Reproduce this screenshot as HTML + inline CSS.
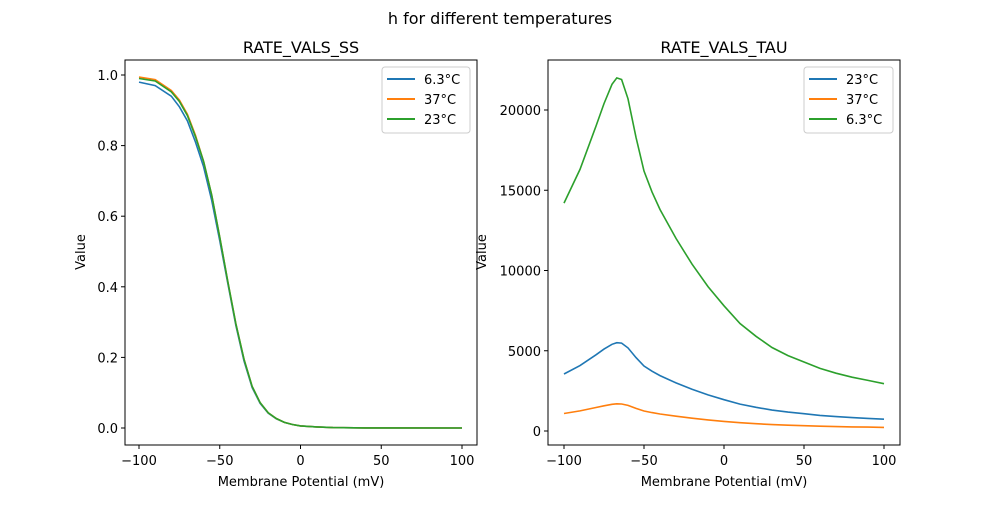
<!DOCTYPE html>
<html><head><meta charset="utf-8"><style>
body{margin:0;background:#fff}
svg{font-family:"DejaVu Sans","Liberation Sans",sans-serif}
</style></head><body>
<svg id="s" width="1000" height="500" xmlns="http://www.w3.org/2000/svg">
<rect width="1000" height="500" fill="#fff"/>
<text x="500" y="24" font-size="16" text-anchor="middle">h for different temperatures</text>
<text x="301" y="53" font-size="16" text-anchor="middle">RATE_VALS_SS</text>
<text x="724" y="53" font-size="16" text-anchor="middle">RATE_VALS_TAU</text>
<g id="g"></g>
<rect x="125" y="60" width="352" height="385" fill="none" stroke="#000" stroke-width="1"/>
<rect x="548" y="60" width="352" height="385" fill="none" stroke="#000" stroke-width="1"/>
<text x="301" y="486" font-size="13" text-anchor="middle">Membrane Potential (mV)</text>
<text x="724" y="486" font-size="13" text-anchor="middle">Membrane Potential (mV)</text>
<text transform="translate(85,252) rotate(-90)" font-size="13" text-anchor="middle">Value</text>
<text transform="translate(486,252) rotate(-90)" font-size="13" text-anchor="middle">Value</text>
<g font-size="13">
<rect x="382" y="67" width="88" height="66" rx="3" fill="#fff" stroke="#ccc"/>
<line x1="387" y1="79" x2="415" y2="79" stroke="#1f77b4" stroke-width="2"/><text x="424" y="84">6.3°C</text>
<line x1="387" y1="99" x2="415" y2="99" stroke="#ff7f0e" stroke-width="2"/><text x="424" y="104">37°C</text>
<line x1="387" y1="119" x2="415" y2="119" stroke="#2ca02c" stroke-width="2"/><text x="424" y="124">23°C</text>
<rect x="804" y="67" width="89" height="66" rx="3" fill="#fff" stroke="#ccc"/>
<line x1="809" y1="79" x2="837" y2="79" stroke="#1f77b4" stroke-width="2"/><text x="846" y="84">23°C</text>
<line x1="809" y1="99" x2="837" y2="99" stroke="#ff7f0e" stroke-width="2"/><text x="846" y="104">37°C</text>
<line x1="809" y1="119" x2="837" y2="119" stroke="#2ca02c" stroke-width="2"/><text x="846" y="124">6.3°C</text>
</g>
</svg>
<script>
var g=document.getElementById('g'),h='';
function L(x1,y1,x2,y2){h+='<line x1="'+x1+'" y1="'+y1+'" x2="'+x2+'" y2="'+y2+'" stroke="#000"/>';}
function T(x,y,t,a){h+='<text x="'+x+'" y="'+y+'" font-size="13" text-anchor="'+a+'">'+t+'</text>';}
var xl=function(v){return 300.5+v*1.615}, xr=function(v){return 724+v*1.6};
var yl=function(v){return 428-v*353}, yr=function(v){return 431-v*0.01605};
[-100,-50,0,50,100].forEach(function(v){var x=xl(v);L(x,445,x,449);T(x,465,v==-100?'−100':v==-50?'−50':v,'middle');x=xr(v);L(x,445,x,449);T(x,465,v==-100?'−100':v==-50?'−50':v,'middle');});
[0,0.2,0.4,0.6,0.8,1.0].forEach(function(v){var y=yl(v);L(121,y,125,y);T(118,y+5,v.toFixed(1),'end');});
[0,5000,10000,15000,20000].forEach(function(v){var y=yr(v);L(544,y,548,y);T(541,y+5,v,'end');});
function P(pts,c){h+='<polyline fill="none" stroke="'+c+'" stroke-width="1.6" points="'+pts.join(' ')+'"/>';}
var ssB=[[-100,0.98],[-90,0.97],[-80,0.94],[-75,0.91],[-70,0.87],[-65,0.81],[-60,0.74],[-55,0.645],[-50,0.53],[-45,0.41],[-40,0.29],[-35,0.19],[-30,0.115],[-25,0.07],[-20,0.042],[-15,0.026],[-10,0.016],[-5,0.01],[0,0.006],[10,0.003],[20,0.001],[40,0.0003],[100,0]];
var ssG=[[-100,0.99],[-90,0.983],[-80,0.952],[-75,0.925],[-70,0.885],[-65,0.825],[-60,0.755],[-55,0.66],[-50,0.54],[-45,0.415],[-40,0.295],[-35,0.195],[-30,0.118],[-25,0.072],[-20,0.043],[-15,0.027],[-10,0.016],[-5,0.01],[0,0.006],[10,0.003],[20,0.001],[40,0.0003],[100,0]];
function S(a,dy,c){P(a.map(function(q){return xl(q[0]).toFixed(1)+','+yl(q[0]<-60?q[1]+dy:q[1]).toFixed(1)}),c);}
S(ssB,0,'#1f77b4');S(ssG,0.004,'#ff7f0e');S(ssG,0,'#2ca02c');
var gv=[[-100,14200],[-90,16300],[-80,19000],[-75,20400],[-70,21600],[-67,22000],[-64,21900],[-60,20700],[-55,18300],[-50,16200],[-45,14900],[-40,13800],[-30,12000],[-20,10400],[-10,9000],[0,7800],[10,6700],[20,5900],[30,5200],[40,4700],[50,4300],[60,3900],[70,3600],[80,3350],[90,3150],[100,2950]];
function R(d,c){P(gv.map(function(q){return xr(q[0]).toFixed(1)+','+yr(q[1]/d).toFixed(1)}),c);}
R(4,'#1f77b4');R(13,'#ff7f0e');R(1,'#2ca02c');
g.innerHTML=h;
</script>
</body></html>
